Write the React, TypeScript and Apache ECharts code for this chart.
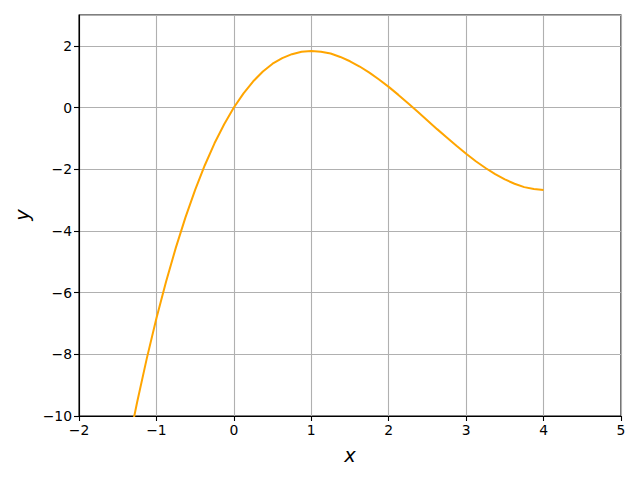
import React, { useEffect, useRef } from "react";
import * as echarts from "echarts";

const xValues = [
  -1.5, -1.375, -1.25, -1.125, -1, -0.875, -0.75, -0.625, -0.5, -0.375, -0.25, -0.125,
  0, 0.125, 0.25, 0.375, 0.5, 0.625, 0.75, 0.875, 1, 1.125, 1.25, 1.375, 1.5, 1.625,
  1.75, 1.875, 2, 2.125, 2.25, 2.375, 2.5, 2.625, 2.75, 2.875, 3, 3.125, 3.25, 3.375,
  3.5, 3.625, 3.75, 3.875, 4,
];
const yValues = [
  -12.75, -11.09, -9.56, -8.14, -6.83, -5.64, -4.55, -3.56, -2.67, -1.87, -1.16, -0.54,
  0, 0.46, 0.85, 1.17, 1.42, 1.6, 1.73, 1.81, 1.83, 1.81, 1.75, 1.64, 1.5, 1.33,
  1.13, 0.91, 0.67, 0.41, 0.14, -0.14, -0.42, -0.7, -0.97, -1.24, -1.5, -1.74, -1.96, -2.16,
  -2.33, -2.47, -2.58, -2.64, -2.67,
];
const xTicks = { min: -2, max: 5, interval: 1 };
const yTicks = { min: -10, max: 3, interval: 2 };

const fmt = (v: number) => String(v).replace("-", "\u2212");

export default function App() {
  const ref = useRef<HTMLDivElement>(null);
  useEffect(() => {
    if (!ref.current) return;
    const chart = echarts.init(ref.current, undefined, { renderer: "svg" });
    const font = "DejaVu Sans";
    const axisCommon = {
      type: "value",
      axisLine: { show: true, onZero: false, lineStyle: { color: "#000", width: 1.1 } },
      axisTick: { show: true, length: 5, lineStyle: { color: "#000", width: 1.1 } },
      splitLine: { show: true, lineStyle: { color: "#b0b0b0", width: 1.1 } },
    };
    chart.setOption({
      animation: false,
      grid: {
        left: 79,
        right: 19,
        top: 15,
        bottom: 64,
        show: true,
        borderColor: "#000",
        borderWidth: 1.1,
        backgroundColor: "transparent",
      },
      xAxis: {
        ...axisCommon,
        min: xTicks.min,
        max: xTicks.max,
        interval: xTicks.interval,
        axisLabel: {
          formatter: fmt,
          color: "#000",
          fontFamily: font,
          fontSize: 13.9,
          margin: 7,
        },
      },
      yAxis: {
        ...axisCommon,
        min: yTicks.min,
        max: yTicks.max,
        interval: yTicks.interval,
        axisLabel: {
          formatter: fmt,
          color: "#000",
          fontFamily: font,
          fontSize: 13.9,
          margin: 7,
          showMaxLabel: false,
        },
      },
      graphic: [
        {
          type: "text",
          x: 350,
          y: 455,
          style: {
            text: "x",
            fontFamily: font,
            fontStyle: "italic",
            fontSize: 19.4,
            fill: "#000",
            align: "center",
            verticalAlign: "middle",
          },
        },
        {
          type: "text",
          x: 22,
          y: 215,
          rotation: Math.PI / 2,
          style: {
            text: "y",
            fontFamily: font,
            fontStyle: "italic",
            fontSize: 19.4,
            fill: "#000",
            align: "center",
            verticalAlign: "middle",
          },
        },
      ],
      series: [
        {
          type: "line",
          data: xValues.map((x, i) => [x, yValues[i]]),
          smooth: false,
          showSymbol: false,
          clip: true,
          lineStyle: { color: "#ffa500", width: 2 },
        },
      ],
    });
    return () => chart.dispose();
  }, []);
  return <div ref={ref} style={{ width: 640, height: 480, margin: -8 }} />;
}
